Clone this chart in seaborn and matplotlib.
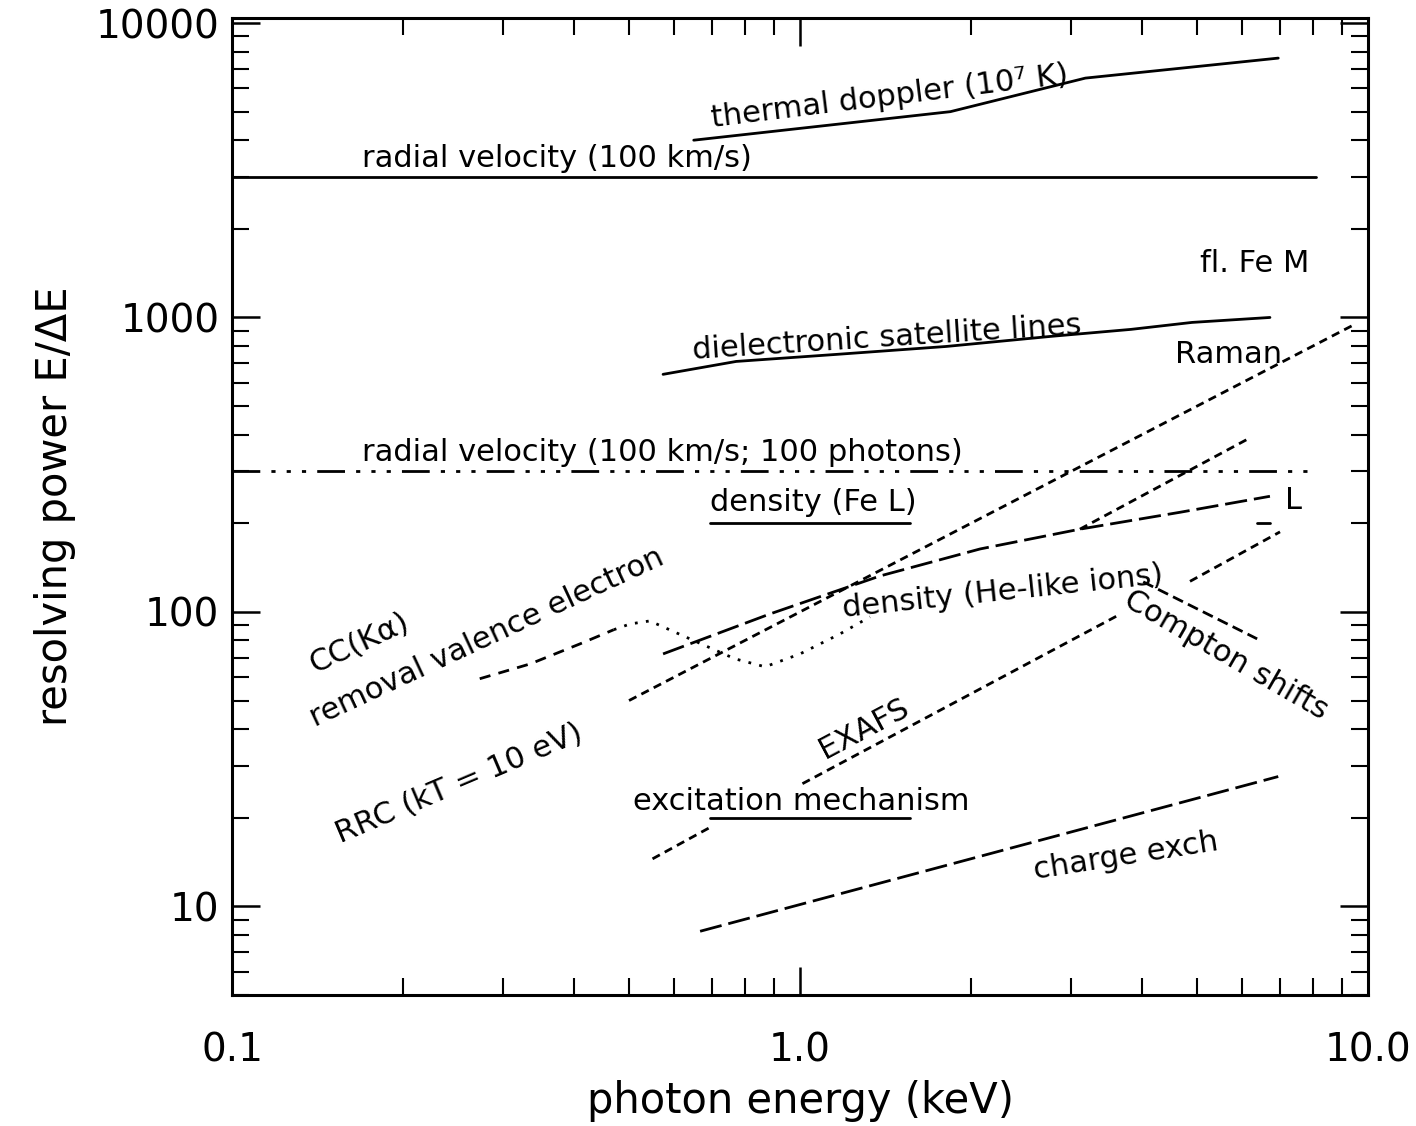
import matplotlib
matplotlib.use("Agg")
import matplotlib.pyplot as plt
import seaborn as sns
import pandas as pd

# ---------------- data (photon energy keV, resolving power E/dE) ----------------
E_rv = [0.1, 8.1]
R_rv = [3000, 3000]

E_rv100 = [0.1, 8.1]
R_rv100 = [300, 300]

E_thermal = [0.65, 1.84, 3.18, 6.95]
R_thermal = [4000, 5000, 6500, 7600]

E_dielec = [0.574, 0.772, 1.157, 1.807, 2.755, 3.825, 4.90, 6.72]
R_dielec = [641, 709, 749, 797, 862, 911, 962, 1000]

E_rrc = [0.5, 9.5]
R_rrc = [50, 950]

E_L = [0.574, 0.885, 1.384, 2.075, 3.11, 4.67, 6.72]
R_L = [72, 98.4, 132.5, 163.6, 191, 218, 247]

E_branch = [3.11, 6.12]
R_branch = [191, 385]

E_feL = [0.695, 1.56]
R_feL = [200, 200]

E_exc = [0.695, 1.56]
R_exc = [20, 20]

E_short = [6.38, 6.72]
R_short = [200, 200]

E_exafs1 = [0.55, 0.70]
R_exafs1 = [14.5, 18.7]
E_exafs2 = [1.01, 3.61]
R_exafs2 = [26.1, 96.8]
E_exafs3 = [4.86, 7.0]
R_exafs3 = [127, 187]

E_compton = [4.02, 6.38]
R_compton = [126.5, 81]

E_cx = [0.667, 6.95]
R_cx = [8.23, 27.6]

E_rem_a = [0.273, 0.335, 0.410, 0.47]
R_rem_a = [59.3, 66.6, 77.9, 87.0]
E_rem_b = [0.47, 0.502, 0.544, 0.640, 0.768, 0.868, 1.0, 1.176, 1.328]
R_rem_b = [87.0, 91.0, 93.2, 81.0, 69.3, 65.1, 72.0, 84.2, 96.2]

x_ticks = [0.1, 1.0, 10.0]
x_ticklabels = ["0.1", "1.0", "10.0"]
y_ticks = [10, 100, 1000, 10000]
y_ticklabels = ["10", "100", "1000", "10000"]

# labels: (text, E, R, rotation, va)
labels = [
    ("radial velocity (100 km/s)", 0.1694, 3250, 0, "baseline"),
    ("thermal doppler (10\u2077 K)", 0.70, 4450, 7, "baseline"),
    ("fl. Fe M", 5.06, 1432, 0, "baseline"),
    ("dielectronic satellite lines", 0.649, 721, 3.7, "baseline"),
    ("Raman", 4.57, 703, 0, "baseline"),
    ("radial velocity (100 km/s; 100 photons)", 0.1694, 325, 0, "baseline"),
    ("density (Fe L)", 0.695, 220, 0, "baseline"),
    ("L", 7.14, 223, 0, "baseline"),
    ("density (He-like ions)", 1.19, 96, 6, "baseline"),
    ("Compton shifts", 3.87, 124, -30, "top"),
    ("EXAFS", 1.107, 31.7, 28, "baseline"),
    ("excitation mechanism", 0.508, 21.3, 0, "baseline"),
    ("charge exch", 2.593, 12.4, 9, "baseline"),
    ("RRC (kT = 10 eV)", 0.1549, 16.4, 23, "baseline"),
    ("removal valence electron", 0.140, 40.7, 25, "baseline"),
    ("CC(K\u03b1)", 0.140, 61.6, 25, "baseline"),
]

# ---------------- plot ----------------
sns.set_theme(style="ticks")
plt.rcParams["font.family"] = ["DejaVu Sans"]

fig = plt.figure(figsize=(14.16, 11.26), dpi=100)
ax = fig.add_axes([232 / 1416, 1 - 995 / 1126, (1368 - 232) / 1416, (995 - 18) / 1126])
ax.set_xscale("log")
ax.set_yscale("log")

lw = 2.0
series = [
    (E_rv, R_rv, "-"),
    (E_rv100, R_rv100, (0, (10, 4, 1.5, 4, 1.5, 4, 1.5, 4))),
    (E_thermal, R_thermal, "-"),
    (E_dielec, R_dielec, "-"),
    (E_rrc, R_rrc, (0, (3, 2))),
    (E_L, R_L, (0, (8, 2.5))),
    (E_branch, R_branch, (0, (3, 2))),
    (E_feL, R_feL, "-"),
    (E_exc, R_exc, "-"),
    (E_short, R_short, "-"),
    (E_exafs1, R_exafs1, (0, (3, 2))),
    (E_exafs2, R_exafs2, (0, (3, 2))),
    (E_exafs3, R_exafs3, (0, (3, 2))),
    (E_compton, R_compton, (0, (4, 2))),
    (E_cx, R_cx, (0, (8, 2.5))),
    (E_rem_a, R_rem_a, (0, (4, 3))),
    (E_rem_b, R_rem_b, (0, (1, 3))),
]
for E, R, ls in series:
    df = pd.DataFrame({"E": E, "R": R})
    sns.lineplot(data=df, x="E", y="R", ax=ax, color="black", linewidth=lw,
                 linestyle=ls, sort=False, estimator=None)

for txt, E, R, rot, va in labels:
    ax.text(E, R, txt, rotation=rot, rotation_mode="anchor", ha="left", va=va,
            fontsize=22, color="black")

ax.set_xlim(0.1, 10.0)
ax.set_ylim(5, 10400)
ax.set_xticks(x_ticks)
ax.set_xticklabels(x_ticklabels)
ax.set_yticks(y_ticks)
ax.set_yticklabels(y_ticklabels)

ax.tick_params(which="both", direction="in", top=True, right=True, colors="black")
ax.tick_params(which="major", length=20, width=1.8, labelsize=28)
ax.tick_params(axis="x", which="major", pad=26)
ax.tick_params(axis="y", which="major", pad=9)
ax.tick_params(which="minor", length=12, width=1.5)
for sp in ax.spines.values():
    sp.set_linewidth(2.2)
    sp.set_color("black")

ax.set_xlabel("photon energy (keV)", fontsize=30, labelpad=8, color="black")
ax.set_ylabel("resolving power E/\u0394E", fontsize=30, labelpad=14, color="black")

fig.savefig("out.png", dpi=100, facecolor="white")
